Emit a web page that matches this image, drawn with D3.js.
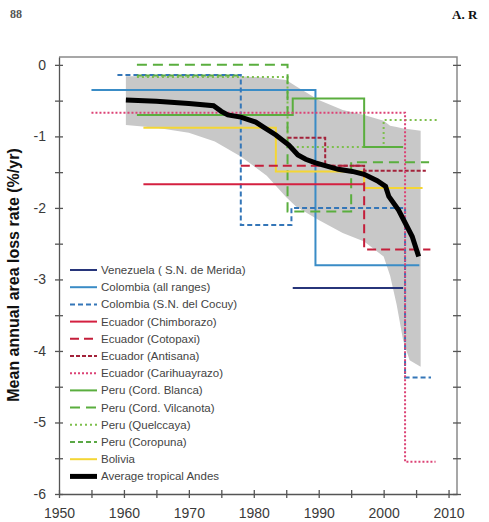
<!DOCTYPE html>
<html>
<head>
<meta charset="utf-8">
<script src="https://cdn.jsdelivr.net/npm/d3@7"></script>
<style>
body { margin: 0; background: #fff; }
svg { display: block; font-family: "Liberation Sans", Arial, sans-serif; }
.axis path, .axis line { stroke: #555; stroke-width: 1.3; }
.axis text { fill: #3a3a3a; font-size: 14px; font-family: "Liberation Sans", Arial, sans-serif; }
.legend-text { fill: #444; font-size: 11.5px; }
</style>
</head>
<body>
<div class="chart"></div>
<script>
var width = 489,
height = 522,
xLeft = 59,
xRight = 457,
yTop = 57,
yBottom = 494;

// axis ticks
var yearTicks = [1950, 1960, 1970, 1980, 1990, 2000, 2010];
var yearMinor = [1955, 1965, 1975, 1985, 1995, 2005];
var rateTicks = [0, -1, -2, -3, -4, -5, -6];
var rateMinor = [-0.5, -1.5, -2.5, -3.5, -4.5, -5.5];

// step series: rate[i] holds from year[i] to year[i+1]
var venezuelaYears = [1986, 2003];
var venezuelaRates = [-3.12];
var colombiaYears = [1955, 1989.5, 2005.5];
var colombiaRates = [-0.35, -2.8];
var cocuyYears = [1959, 1978, 1985.8, 2003.3, 2007.3];
var cocuyRates = [-0.14, -2.24, -2.0, -4.37];
var chimborazoYears = [1963, 1997];
var chimborazoRates = [-1.67];
var cotopaxiYears = [1978, 1997, 2007.2];
var cotopaxiRates = [-1.41, -2.58];
var antisanaYears = [1985.2, 1991, 1997, 2006.5];
var antisanaRates = [-1.02, -1.41, -1.48];
var carihuayrazoYears = [1955, 2003.3, 2008];
var carihuayrazoRates = [-0.67, -5.55];
var blancaYears = [1962, 1986, 1997, 2003];
var blancaRates = [-0.70, -0.47, -1.15];
var vilcanotaYears = [1962, 1985.2, 1995, 2007];
var vilcanotaRates = [0, -2.05, -1.36];
var quelccayaYears = [1962, 1985.2, 2000, 2008.5];
var quelccayaRates = [-0.17, -1.15, -0.77];
var coropunaYears = [1962, 1978];
var coropunaRates = [-0.15];
var boliviaYears = [1963, 1983.4, 1997, 2006];
var boliviaRates = [-0.88, -1.49, -1.72];

// average tropical Andes
var avgYears = [1960.3, 1965, 1970, 1973.8, 1975, 1976, 1978, 1980.3, 1981.5, 1983.4, 1985.4, 1986.8, 1988, 1989.5, 1991, 1993, 1995.2, 1997, 1999, 2000.3, 2000.8, 2002.3, 2004.4, 2005.4];
var avgRates = [-0.49, -0.51, -0.54, -0.57, -0.65, -0.70, -0.73, -0.80, -0.87, -0.98, -1.12, -1.26, -1.32, -1.37, -1.41, -1.46, -1.49, -1.53, -1.62, -1.70, -1.84, -2.03, -2.40, -2.68];

// grey range
var bandYears = [1960.3, 1965, 1970, 1974, 1978, 1982, 1985, 1986.5, 1990, 1993.7, 1997, 2000, 2001, 2002, 2003, 2004, 2005.7];
var bandUpper = [-0.16, -0.16, -0.16, -0.16, -0.16, -0.18, -0.21, -0.30, -0.49, -0.63, -0.70, -0.78, -0.85, -0.87, -0.89, -0.90, -0.92];
var bandLower = [-0.84, -0.88, -0.95, -1.07, -1.28, -1.55, -1.85, -1.98, -2.17, -2.35, -2.47, -2.68, -2.95, -3.35, -3.85, -4.13, -4.22];

var series = [
	{ name: "Venezuela ( S.N. de Merida)", years: venezuelaYears, rates: venezuelaRates, color: "#27357a", dash: null },
	{ name: "Colombia (all ranges)", years: colombiaYears, rates: colombiaRates, color: "#3a8cc6", dash: null },
	{ name: "Colombia (S.N. del Cocuy)", years: cocuyYears, rates: cocuyRates, color: "#3476b8", dash: "5,3" },
	{ name: "Ecuador (Chimborazo)", years: chimborazoYears, rates: chimborazoRates, color: "#d42040", dash: null },
	{ name: "Ecuador (Cotopaxi)", years: cotopaxiYears, rates: cotopaxiRates, color: "#c41e3a", dash: "9,5" },
	{ name: "Ecuador (Antisana)", years: antisanaYears, rates: antisanaRates, color: "#a3223a", dash: "4,2" },
	{ name: "Ecuador (Carihuayrazo)", years: carihuayrazoYears, rates: carihuayrazoRates, color: "#dc4275", dash: "2,2" },
	{ name: "Peru (Cord. Blanca)", years: blancaYears, rates: blancaRates, color: "#5aae3e", dash: null },
	{ name: "Peru (Cord. Vilcanota)", years: vilcanotaYears, rates: vilcanotaRates, color: "#5aae3e", dash: "10,6" },
	{ name: "Peru (Quelccaya)", years: quelccayaYears, rates: quelccayaRates, color: "#7dbf4c", dash: "2,3" },
	{ name: "Peru (Coropuna)", years: coropunaYears, rates: coropunaRates, color: "#5aa845", dash: "5,3" },
	{ name: "Bolivia", years: boliviaYears, rates: boliviaRates, color: "#f4d635", dash: null }
];

var svg = d3.select("div.chart")
			.append("svg")
			.attr("width", width)
			.attr("height", height);

var x = d3.scaleLinear()
		.domain([1950, 2011.3])
		.range([xLeft, xRight]);

var y = d3.scaleLinear()
		.domain([-6, 0.11])
		.range([yBottom, yTop]);

// page header remnants
svg.append("text")
	.attr("x", 10).attr("y", 18)
	.attr("font-family", "Liberation Serif, serif")
	.attr("font-weight", "bold")
	.attr("font-size", "12px")
	.attr("fill", "#555")
	.text("88");

svg.append("text")
	.attr("x", 452).attr("y", 19)
	.attr("font-family", "Liberation Serif, serif")
	.attr("font-weight", "bold")
	.attr("font-size", "13px")
	.attr("fill", "#111")
	.text("A. R");

// frame top/right
svg.append("path")
	.attr("d", "M" + xLeft + "," + yTop + "H" + xRight + "V" + yBottom)
	.attr("fill", "none")
	.attr("stroke", "#8a8a8a")
	.attr("stroke-width", 1.5);

/*
========== grey range ==========
*/
var area = d3.area()
			.x(function(d, i){ return x(bandYears[i]); })
			.y0(function(d, i){ return y(bandLower[i]); })
			.y1(function(d, i){ return y(bandUpper[i]); });

svg.append("path")
	.datum(bandYears)
	.attr("d", area)
	.attr("fill", "#c8c8c8");

/*
========== step lines ==========
*/
function stepPoints(years, rates){
	var pts = [];
	for (var i = 0; i < rates.length; i++){
		pts.push([years[i], rates[i]]);
		pts.push([years[i+1], rates[i]]);
	}
	return pts;
}

var line = d3.line()
			.x(function(d){ return x(d[0]); })
			.y(function(d){ return y(d[1]); });

var drawOrder = [1, 0, 2, 10, 9, 8, 7, 11, 3, 4, 5, 6];
drawOrder.forEach(function(k){
	var s = series[k];
	svg.append("path")
		.datum(stepPoints(s.years, s.rates))
		.attr("d", line)
		.attr("fill", "none")
		.attr("stroke", s.color)
		.attr("stroke-width", 2)
		.attr("stroke-dasharray", s.dash);
});

// average line
svg.append("path")
	.datum(d3.zip(avgYears, avgRates))
	.attr("d", line)
	.attr("fill", "none")
	.attr("stroke", "#000")
	.attr("stroke-width", 5)
	.attr("stroke-linejoin", "miter");

/*
========== axes ==========
*/
function crossTicks(g, horizontal){
	g.selectAll(".tick line")
		.attr(horizontal ? "y1" : "x1", 4)
		.attr(horizontal ? "y2" : "x2", -4);
}

var yAxis = svg.append("g")
	.attr("class", "axis")
	.attr("transform", "translate(" + xLeft + ",0)")
	.call(d3.axisLeft(y)
		.tickValues(rateTicks)
		.tickSizeOuter(0)
		.tickPadding(7)
		.tickFormat(function(d){ return String(d); }));
crossTicks(yAxis, false);

svg.append("g")
	.attr("class", "axis")
	.attr("transform", "translate(" + xLeft + ",0)")
	.call(d3.axisLeft(y).tickValues(rateMinor).tickSizeOuter(0).tickFormat(""))
	.call(function(g){ g.select(".domain").remove(); crossTicks(g, false); });

var rightAxis = svg.append("g")
	.attr("class", "axis")
	.attr("transform", "translate(" + xRight + ",0)")
	.call(d3.axisRight(y).tickValues(rateTicks.concat(rateMinor)).tickSizeOuter(0).tickFormat(""));
rightAxis.select(".domain").remove();
crossTicks(rightAxis, false);

var xAxis = svg.append("g")
	.attr("class", "axis")
	.attr("transform", "translate(0," + yBottom + ")")
	.call(d3.axisBottom(x)
		.tickValues(yearTicks.concat(yearMinor))
		.tickSizeOuter(0)
		.tickPadding(8)
		.tickFormat(function(d){ return yearTicks.indexOf(d) >= 0 ? d : ""; }));
crossTicks(xAxis, true);
xAxis.selectAll(".tick text").attr("font-size", "14.5px");

svg.append("text")
	.attr("transform", "translate(19,275) rotate(-90)")
	.attr("text-anchor", "middle")
	.attr("font-weight", "bold")
	.attr("font-size", "16px")
	.attr("fill", "#111")
	.text("Mean annual area loss rate (%/yr)");

/*
========== legend ==========
*/
var legendItems = series.concat([{ name: "Average tropical Andes", color: "#000", dash: null, thick: true }]);

var legend = svg.append("g")
				.attr("transform", "translate(70,270)");

legendItems.forEach(function(s, i){
	var row = legend.append("g").attr("transform", "translate(0," + (i * 17.2) + ")");
	row.append("line")
		.attr("x1", 0).attr("x2", 27)
		.attr("stroke", s.color)
		.attr("stroke-width", s.thick ? 5 : 2)
		.attr("stroke-dasharray", s.dash);
	row.append("text")
		.attr("class", "legend-text")
		.attr("x", 31)
		.attr("dy", "0.35em")
		.text(s.name);
});
</script>
</body>
</html>
